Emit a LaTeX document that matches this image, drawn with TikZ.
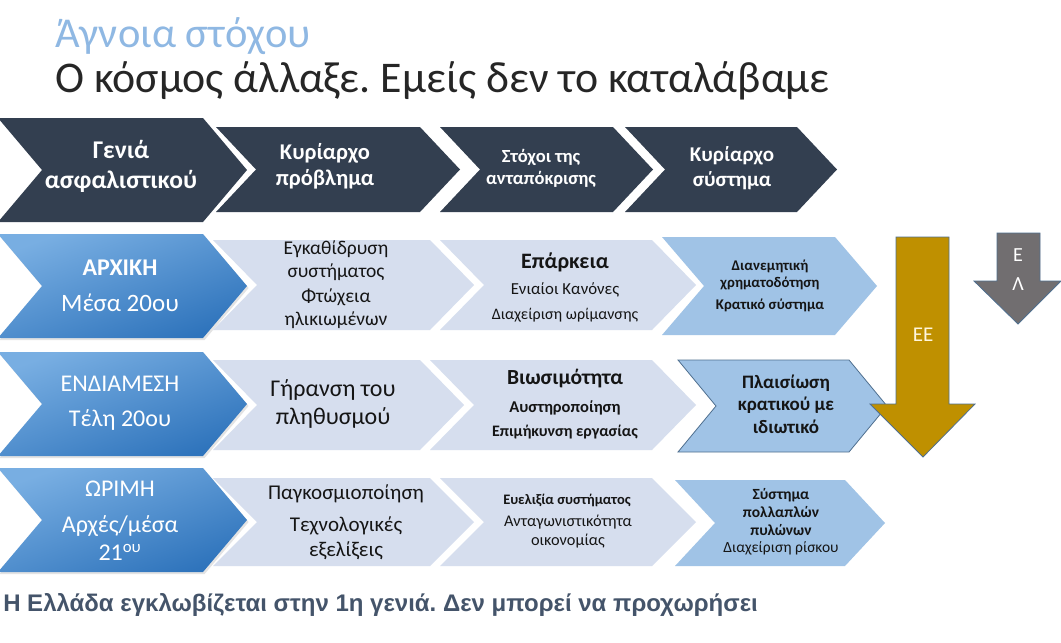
\documentclass[tikz,border=0pt]{standalone}
\usepackage{fontspec}
\setmainfont{Carlito}
\newfontfamily\arialfont{Liberation Sans}
\usetikzlibrary{shadows}
\frenchspacing
\definecolor{hdr}{HTML}{333F50}
\definecolor{lite}{HTML}{D6DEEE}
\definecolor{dblue}{HTML}{A0C3E6}
\definecolor{aTop}{HTML}{78AEE2}
\definecolor{aBot}{HTML}{2F74BC}
\definecolor{gold}{HTML}{BF9000}
\definecolor{grayarr}{HTML}{716E70}
\definecolor{arrline}{HTML}{4F6F8F}
\definecolor{ttlblue}{HTML}{8FB8E3}
\definecolor{subt}{HTML}{262626}
\definecolor{bottxt}{HTML}{44546A}
\definecolor{txtdark}{HTML}{151515}
\definecolor{eetxt}{HTML}{FFF6DC}
\newcommand{\px}[1]{\fontsize{\fpeval{0.75*#1}}{\fpeval{0.88*#1}}\selectfont}
% #1 style, #2 left x, #3 depth, #4 corner x, #5 top y, #6 bottom y
\newcommand{\chevshape}[6]{%
  \path[#1] (#2,#5) -- (#4,#5) -- ({#4+#3},{(#5+#6)/2}) -- (#4,#6) -- (#2,#6) -- ({#2+#3},{(#5+#6)/2}) -- cycle;}
\tikzset{
  hdrbox/.style={fill=hdr},
  litebox/.style={fill=lite},
  dbox/.style={fill=dblue},
  abox/.style={top color=aTop, bottom color=aBot, shading angle=20,
    drop shadow={shadow xshift=1.2pt, shadow yshift=-1.5pt, opacity=0.22}},
  wtxt/.style={text=white, align=center, inner sep=0pt},
  btxt/.style={text=txtdark, align=center, inner sep=0pt},
}
\begin{document}
\begin{tikzpicture}[x=0.75pt,y=-0.75pt]
\useasboundingbox (0,0) rectangle (1061,643);
\fill[white] (0,0) rectangle (1061,643);
% titles
\node[anchor=base west, inner sep=0pt, text=ttlblue, font=\px{42.5}] (title1) at (55,47) {Άγνοια στόχου};
\node[anchor=base west, inner sep=0pt, text=subt, font=\px{43.8}] (title2) at (55,92) {Ο κόσμος άλλαξε. Εμείς δεν το καταλάβαμε};
% header chevrons
\chevshape{hdrbox}{-2}{44}{203}{118}{222}
\chevshape{hdrbox}{216}{40}{420}{127}{212}
\chevshape{hdrbox}{440}{40}{613}{127}{212}
\chevshape{hdrbox}{625}{40}{797}{127}{212}
\node[wtxt, font=\px{25.5}\bfseries] (h1) at (121,166) {Γενιά\\ασφαλιστικού};
\node[wtxt, font=\px{22.5}\bfseries] (h2) at (325,166) {Κυρίαρχο\\πρόβλημα};
\node[wtxt, font=\px{18.5}\bfseries] (h3) at (541,168) {Στόχοι της\\ανταπόκρισης};
\node[wtxt, font=\px{21}\bfseries] (h4) at (732,168) {Κυρίαρχο\\σύστημα};
% row 1
\chevshape{abox}{-2}{44}{203}{234}{338}
\chevshape{litebox}{213}{44}{430}{240}{330}
\chevshape{litebox}{440}{44}{652}{240}{330}
\chevshape{dbox}{662}{42}{835}{237}{335}
\node[wtxt, font=\px{24}\bfseries] (r1a1) at (120,268) {ΑΡΧΙΚΗ};
\node[wtxt, font=\px{25}] (r1a2) at (120,303) {Μέσα 20ου};
\node[btxt, font=\px{19.5}] (r1b1) at (336,261) {Εγκαθίδρυση\\συστήματος};
\node[btxt, font=\px{19.5}] (r1b2) at (336,309) {Φτώχεια\\ηλικιωμένων};
\node[btxt, font=\px{22}\bfseries] (r1c1) at (565,262) {Επάρκεια};
\node[btxt, font=\px{16.8}] (r1c2) at (565,290) {Ενιαίοι Κανόνες};
\node[btxt, font=\px{16}] (r1c3) at (565,315) {Διαχείριση ωρίμανσης};
\node[btxt, font=\px{14.8}\bfseries] (r1d1) at (770,275) {Διανεμητική\\χρηματοδότηση};
\node[btxt, font=\px{14.8}\bfseries] (r1d2) at (770,305) {Κρατικό σύστημα};
% row 2
\chevshape{abox}{-2}{44}{203}{352}{456}
\chevshape{litebox}{213}{44}{420}{360}{450}
\chevshape{litebox}{430}{44}{652}{360}{450}
\chevshape{dbox, draw=arrline, line width=0.6pt}{678}{38}{849}{360}{452}
\node[wtxt, font=\px{24}] (r2a1) at (120,384) {ΕΝΔΙΑΜΕΣΗ};
\node[wtxt, font=\px{24}] (r2a2) at (120,420) {Τέλη 20ου};
\node[btxt, font=\px{24}] (r2b) at (333,404) {Γήρανση του\\πληθυσμού};
\node[btxt, font=\px{21.5}\bfseries] (r2c1) at (565,379) {Βιωσιμότητα};
\node[btxt, font=\px{16.5}\bfseries] (r2c2) at (565,408) {Αυστηροποίηση};
\node[btxt, font=\px{16}\bfseries] (r2c3) at (565,432) {Επιμήκυνση εργασίας};
\node[btxt, font=\px{19}\bfseries] (r2d) at (786,404) {Πλαισίωση\\κρατικού με\\ιδιωτικό};
% row 3
\chevshape{abox}{-2}{44}{203}{468}{572}
\chevshape{litebox}{213}{44}{430}{478}{566}
\chevshape{litebox}{440}{44}{652}{478}{566}
\chevshape{dbox}{675}{40}{845}{480}{566}
\node[wtxt, font=\px{24}] (r3a1) at (120,489) {ΩΡΙΜΗ};
\node[wtxt, font=\px{24}] (r3a2) at (120,538) {Αρχές/μέσα\\21\textsuperscript{ου}};
\node[btxt, font=\px{21}] (r3b1) at (346,494) {Παγκοσμιοποίηση};
\node[btxt, font=\px{21}] (r3b2) at (346,538) {Τεχνολογικές\\εξελίξεις};
\node[btxt, font=\px{14.5}\bfseries] (r3c1) at (567,500) {Ευελιξία συστήματος};
\node[btxt, font=\px{16.3}] (r3c2) at (568,532) {Ανταγωνιστικότητα\\οικονομίας};
\node[btxt, font=\px{15.5}\bfseries] (r3d1) at (781,512) {Σύστημα\\πολλαπλών\\πυλώνων};
\node[btxt, font=\px{15.5}] (r3d2) at (781,548) {Διαχείριση ρίσκου};
% gold arrow
\path[fill=gold, draw=arrline, line width=0.6pt] (896,237) -- (949,237) -- (949,404) -- (975,404) -- (923,457) -- (870,404) -- (896,404) -- cycle;
\node[text=eetxt, inner sep=0pt, font=\px{21}] (ee) at (923,335) {EE};
% gray arrow
\path[fill=grayarr, draw=arrline, line width=0.6pt] (997,233) -- (1040,233) -- (1040,281) -- (1061,281) -- (1018,324) -- (974,281) -- (997,281) -- cycle;
\node[text=white, inner sep=0pt, font=\px{20}] (e1) at (1018,255) {Ε};
\node[text=white, inner sep=0pt, font=\px{20}] (l1) at (1018,284) {Λ};
% bottom text
\node[anchor=west, inner sep=0pt, text=bottxt, font=\arialfont\bfseries\px{24}] (bottom) at (3,605) {Η Ελλάδα εγκλωβίζεται στην 1η γενιά. Δεν μπορεί να προχωρήσει};
\end{tikzpicture}
\end{document}
